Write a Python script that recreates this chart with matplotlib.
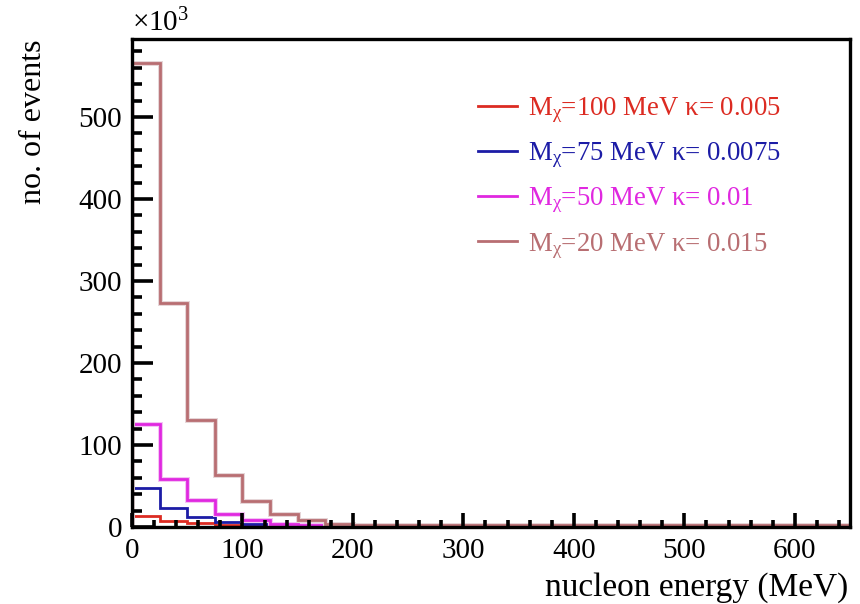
import matplotlib
matplotlib.use("Agg")
import matplotlib.pyplot as plt
import matplotlib.patheffects as pe
import numpy as np

plt.rcParams['font.family'] = ['Liberation Serif', 'DejaVu Serif']
plt.rcParams['mathtext.fontset'] = 'custom'
plt.rcParams['mathtext.rm'] = 'Liberation Serif'
plt.rcParams['mathtext.it'] = 'Liberation Serif'

# bin edges of the nucleon energy histogram (MeV), 25 MeV bins
bin_edges = np.arange(0, 651, 25)

# counts per bin, in units of 10^3 events
m100 = [13, 7.7, 5, 3, 2, 1.5, 1.2, 1, 1, 1, 1, 1, 1, 1, 1, 1, 1, 1, 1, 1, 1, 1, 1, 1, 1, 1]
m75 = [47, 23.5, 12.5, 6, 4, 2.5, 1.5, 1, 1, 1, 1, 1, 1, 1, 1, 1, 1, 1, 1, 1, 1, 1, 1, 1, 1, 1]
m50 = [126, 59, 33, 15.5, 8, 4, 3, 2, 1.5, 1.5, 1.5, 1.5, 1.5, 1.5, 1.5, 1.5, 1.5, 1.5, 1.5, 1.5,
       1.5, 1.5, 1.5, 1.5, 1.5, 1.5]
m20 = [566, 273, 130, 63, 32, 16, 8, 4, 3, 2.5, 2, 2, 2, 2, 2, 2, 2, 2, 2, 2, 2, 2, 2, 2, 2, 2]

labels = [r'M$_{\mathrm{χ}}$=100 MeV κ= 0.005',
          r'M$_{\mathrm{χ}}$=75 MeV κ= 0.0075',
          r'M$_{\mathrm{χ}}$=50 MeV κ= 0.01',
          r'M$_{\mathrm{χ}}$=20 MeV κ= 0.015']
colors = ['#dc2b22', '#1c1ca6', '#e028e0', '#b86e72']
halos = [None, None, '#f4c4f4', '#e6d6d8']

fig = plt.figure(figsize=(8.6, 6.04), dpi=100)
ax = fig.add_axes([0.1535, 0.1275, 0.8349, 0.8079])

for vals, col, halo, lab in zip([m100, m75, m50, m20], colors, halos, labels):
    effects = []
    if halo:
        effects = [pe.Stroke(linewidth=3.6, foreground=halo), pe.Normal()]
    ax.stairs(vals, bin_edges, color=col, linewidth=2.0, label=lab, path_effects=effects)

ax.set_xlim(0, 650)
ax.set_ylim(0, 595)

ax.set_xticks(np.arange(0, 601, 100))
ax.set_xticks(np.arange(0, 651, 20), minor=True)
ax.set_yticks(np.arange(0, 501, 100))
ax.set_yticks(np.arange(0, 595, 20), minor=True)

ax.tick_params(axis='both', which='both', direction='in', width=2.6, colors='black',
               labelsize=21, top=False, right=False)
ax.tick_params(axis='y', which='major', length=15, pad=7)
ax.tick_params(axis='y', which='minor', length=7.5)
ax.tick_params(axis='x', which='major', length=10, pad=8)
ax.tick_params(axis='x', which='minor', length=5)

for s in ax.spines.values():
    s.set_linewidth(2.4)

ax.set_xlabel('nucleon energy (MeV)', fontsize=24, loc='right')
ax.xaxis.label.set_va('baseline')
ax.set_ylabel('no. of events', fontsize=23, loc='top')
ax.yaxis.set_label_coords(-0.117, 1.0)
ax.xaxis.set_label_coords(0.997, -0.141)

ax.text(0.0, 1.003, r'×10$^{3}$', transform=ax.transAxes, fontsize=21,
        ha='left', va='bottom')

leg = ax.legend(loc='upper left', bbox_to_anchor=(0.482, 0.885), frameon=False,
                fontsize=19.3, handlelength=1.45, handletextpad=0.4, labelspacing=0.58,
                borderpad=0, borderaxespad=0, labelcolor='linecolor')

fig.savefig('out.png', dpi=100)
